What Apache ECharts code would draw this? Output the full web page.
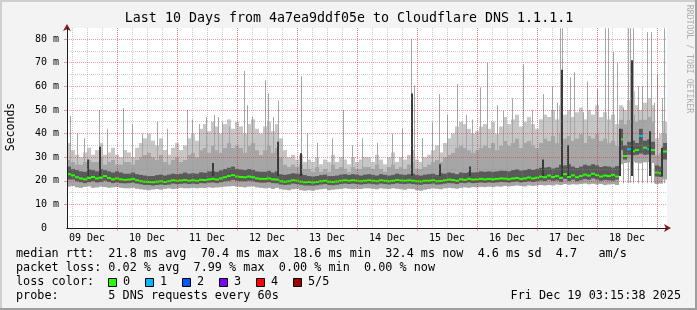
<!DOCTYPE html>
<html><head><meta charset="utf-8">
<script src="https://cdn.jsdelivr.net/npm/echarts@6/dist/echarts.min.js"></script>
<style>html,body{margin:0;padding:0;background:#f3f3f3}#c{width:697px;height:310px}</style>
</head><body><div id="c"></div>
<script>
// ---- time frame: hours since 09 Dec 00:00 ----
const tStart = 4, tEnd = 244, tStep = 1.6;
const dayLabels = ['09 Dec','10 Dec','11 Dec','12 Dec','13 Dec','14 Dec','15 Dec','16 Dec','17 Dec','18 Dec'];
const dayLabelHours = [12,36,60,84,108,132,156,180,204,228];
const dayBoundaryHours = [24,48,72,96,120,144,168,192,216,240];
const sixHourTicks = [6,12,18,24,30,36,42,48,54,60,66,72,78,84,90,96,102,108,114,120,126,132,138,144,150,156,162,168,174,180,186,192,198,204,210,216,222,228,234,240];
const yMax = 84.7;
const yLabelValues = [0,10,20,30,40,50,60,70,80];
const yMajorValues = [10,20,30,40,50,60,70,80];
const yMinorValues = [5,15,25,35,45,55,65,75];

// ---- median rtt (ms), one value per 1.6 h column ----
const med = [
22.8,22.3,21.5,21.0,20.6,21.2,21.6,21.0,21.3,22.0,21.2,20.6,21.0,20.6,20.4,
20.5,20.8,20.2,19.8,19.6,19.5,19.4,19.6,19.8,19.5,19.8,20.2,20.0,20.1,20.3,
20.0,20.2,20.0,20.4,20.3,20.6,20.8,20.5,21.0,21.5,22.0,22.4,21.8,21.6,21.5,
21.8,21.5,21.0,20.8,20.8,21.0,20.6,20.5,19.8,19.6,19.8,20.2,20.0,19.6,19.4,
19.5,19.3,19.5,19.8,20.0,19.6,19.5,19.7,20.0,20.2,20.0,20.2,20.0,19.8,20.0,
20.2,20.0,19.8,20.2,20.0,19.8,20.0,20.3,20.1,20.0,20.2,20.0,19.8,19.7,20.0,
20.0,20.2,19.8,19.9,20.2,20.5,20.3,20.0,20.6,20.4,20.8,20.5,20.6,20.8,20.6,
20.8,20.6,20.8,21.0,20.9,20.7,21.0,21.2,20.8,21.0,21.4,21.0,21.3,21.8,21.5,
22.2,21.6,22.0,21.2,22.8,21.6,22.3,21.5,22.0,22.6,22.2,23.0,22.4,21.8,22.2,
22.0,22.5,21.8,37.5,30.5,33.4,32.5,33.0,39.0,34.0,33.4,33.0,23.5,23.2,32.4];
// smoke: lowest ping
const lo = [
17.5,17.8,17.2,17.0,17.4,17.6,17.0,17.2,17.5,17.3,17.0,17.2,17.4,17.0,16.8,
16.8,17.0,16.6,16.4,16.2,16.0,16.3,16.5,16.2,16.6,16.8,16.5,16.7,17.0,16.8,
16.8,17.0,16.8,17.0,16.9,17.2,17.0,17.2,17.3,17.5,17.6,17.8,17.5,17.4,17.2,
17.5,17.6,17.2,17.0,16.8,17.0,16.5,17.0,16.4,16.2,16.0,16.4,16.6,16.0,15.8,
16.0,15.8,16.2,16.4,16.6,16.0,16.2,16.4,16.5,16.8,16.6,16.4,16.6,16.5,16.8,
16.8,16.6,16.4,16.8,16.6,16.5,16.8,16.6,16.4,16.2,16.6,16.5,16.0,15.8,16.2,
16.5,16.8,16.6,16.4,16.8,17.0,16.8,16.6,17.0,17.2,17.0,17.3,17.2,17.4,17.3,
17.5,17.3,17.6,17.5,17.8,17.6,17.8,18.0,17.8,17.6,18.0,17.8,18.0,18.2,18.0,
18.2,18.0,18.4,18.2,18.6,18.3,18.5,18.4,18.6,18.8,18.5,18.7,18.4,18.6,18.2,
18.4,18.6,18.2,27.0,27.5,27.8,28.0,27.6,27.4,27.8,28.0,27.5,18.6,18.8,20.5];
// smoke: lower edge of dense core
const q1 = [
20.5,20.5,19.8,19.4,19.0,19.4,19.8,19.3,19.5,20.0,19.5,19.0,19.3,19.0,18.9,
19.0,19.2,18.8,18.5,18.2,18.2,18.0,18.2,18.4,18.2,18.4,18.8,18.6,18.7,18.9,
18.6,18.8,18.6,19.0,18.9,19.2,19.3,19.0,19.4,19.8,20.0,20.4,20.0,19.8,19.8,
20.0,19.8,19.4,19.2,19.2,19.4,19.0,18.9,18.4,18.2,18.4,18.8,18.6,18.3,18.0,
18.0,17.9,18.1,18.4,18.6,18.2,18.1,18.3,18.6,18.8,18.6,18.8,18.6,18.4,18.6,
18.8,18.6,18.4,18.8,18.6,18.4,18.6,18.9,18.7,18.6,18.8,18.6,18.4,18.3,18.6,
18.6,18.8,18.4,18.5,18.8,19.0,18.9,18.6,19.1,19.0,19.3,19.0,19.1,19.3,19.1,
19.3,19.1,19.3,19.5,19.4,19.2,19.5,19.7,19.3,19.5,19.8,19.5,19.8,20.1,19.9,
20.4,19.9,20.2,19.6,20.8,19.9,20.5,19.8,20.2,20.7,20.4,21.0,20.5,20.0,20.3,
20.2,20.0,20.5,33.0,29.0,31.0,30.8,31.0,31.5,31.0,31.2,31.0,21.8,21.6,29.0];
// smoke: upper edge of dense core
const q3 = [
26.0,25.0,24.5,24.0,23.8,24.8,24.5,24.0,25.0,24.5,24.0,23.5,24.0,23.5,23.0,
23.0,23.5,22.8,22.5,22.2,22.0,22.0,22.4,22.6,22.2,22.6,23.0,22.8,23.0,23.5,
23.0,23.2,23.0,23.6,23.4,24.0,24.0,23.8,24.4,25.0,25.5,26.0,25.0,24.8,24.5,
25.0,24.6,24.0,23.8,23.8,24.2,23.5,24.0,22.8,22.5,22.8,23.2,23.0,23.0,22.4,
22.0,21.8,22.0,22.4,22.6,22.0,22.0,22.2,22.6,22.8,22.5,22.8,22.6,22.2,22.6,
22.8,22.5,22.2,22.8,22.5,22.2,22.5,23.0,22.7,22.5,22.8,23.0,22.4,22.2,22.6,
22.8,23.0,22.5,23.2,23.0,23.5,23.2,22.8,23.5,23.3,23.6,23.5,23.6,24.0,23.8,
24.0,23.8,24.0,24.3,24.2,24.0,24.5,24.8,24.3,24.5,25.0,24.6,25.0,25.5,25.6,
25.8,25.2,25.6,26.8,26.5,27.0,26.0,25.4,26.0,26.8,26.4,27.0,26.5,25.8,26.2,
26.0,25.6,26.2,42.0,35.0,36.5,37.0,36.0,42.0,37.0,37.5,36.5,26.5,26.0,36.0];
// smoke: top of the solid body of pings
const hi = [
29,28,27,27,28,29,28,28,30,27,28,29,27,27,28,
28,27,29,30,31,32,30,29,31,28,27,29,30,28,29,
31,32,30,33,34,32,35,33,32,34,36,34,35,34,32,
35,36,33,31,33,35,32,34,30,27,26,27,26,27,25,
25,24,26,24,25,24,27,25,26,25,24,26,25,25,26,
26,25,27,25,24,26,27,25,26,25,27,28,25,25,26,
27,28,29,28,30,31,32,34,35,34,33,32,33,34,35,
34,36,33,35,37,35,36,38,34,36,37,35,34,36,38,
37,39,36,40,38,39,37,38,40,36,39,38,40,37,38,
36,37,35,46,44,46,48,45,46,46,47,45,31,32,40];
// smoke: top of the sparse upper pings
const hz = [
36,33,31,30,32,34,31,33,36,31,32,34,31,30,33,
32,30,34,36,38,40,37,35,38,33,31,34,36,33,35,
38,40,37,42,44,41,45,43,40,44,46,42,45,43,40,
44,46,42,40,43,45,41,44,38,33,30,31,29,31,28,
29,28,30,27,29,28,31,28,30,29,27,30,28,29,30,
30,28,31,29,27,30,32,28,30,29,31,33,29,28,30,
31,33,35,32,36,38,40,43,45,44,42,40,41,43,44,
42,45,40,43,47,44,46,48,43,45,47,44,42,46,48,
47,50,46,52,48,50,47,49,51,46,50,48,52,47,49,
46,48,44,52,50,54,58,52,50,53,55,52,38,40,45];
// columns with lost pings: [column, lost pings of 5]
const lossEvents = [[140,1],[143,1],[145,1]];
// isolated high pings: [hour, ms]
const spikes = [[5.2,47.4],[8,40],[11,38],[16.8,50],[20,42],[26.4,50.7],[30,44],[34,40],[40,45],[44,42],
[52,50],[54,46],[57,44],[59.6,47],[62.8,48],[64.4,47],[66,45],[69,43],[74.8,66.5],[76,52],[78,47],
[83.2,62.6],[84.4,57],[86.4,47],[88.4,54],[97.6,64.3],[100,40],[104,36],[110,38],[114.4,50],[118,35],
[122,38],[128,36],[134,40],[138,42],[141.6,80],[142.8,60.5],[146,38],[150,45],[152.8,56.7],[156,48],
[160,61],[163.6,48],[166,46],[169.2,59.6],[172,70],[176,52],[178.4,49.5],[182,55],[186.4,69.4],[190,50],
[194.4,56.7],[198,60],[200,53],[201.2,84.6],[202,84.6],[205.2,63.8],[207,66],[210.4,49],[212,62],[216,58.8],
[219.2,84.6],[220.4,84.6],[222.4,74.5],[224,70],[226.4,51],[228.4,84.6],[229.2,84.6],[230.4,84.6],
[232.4,60],[234,60],[236,83],[237.6,83],[238.8,53],[240,65],[242,55],[242.8,84.6]];
// isolated high medians in the dense core: [hour, ms]
const darkSpikes = [[12.4,29],[17.2,34.4],[62.4,27.5],[88.4,36.5],[97.6,31.7],[142,57],[153.2,27],[165.2,26],
[194.4,29],[202,67],[204.4,35],[225.2,42],[230,71],[237.2,41],[242,34]];

const lossColors = ['#26ff00','#00b8ff','#0059ff','#7e00ff','#ff0000','#a00000'];
const lossLabels = ['0','1','2','3','4','5/5'];
const legendLines = [
 'median rtt:  21.8 ms avg  70.4 ms max  18.6 ms min  32.4 ms now  4.6 ms sd  4.7   am/s',
 'packet loss: 0.02 % avg  7.99 % max  0.00 % min  0.00 % now',
 'loss color:',
 'probe:       5 DNS requests every 60s'];
const stamp = 'Fri Dec 19 03:15:38 2025';
const titleText = 'Last 10 Days from 4a7ea9ddf05e to Cloudflare DNS 1.1.1.1';

// ---- styling ----
const MONO = '"DejaVu Sans Mono", monospace';
const LIGHT = '#a6a6a6', HAZE = '#c6c6c6', DARK = '#5a5a5a';
const MINOR = 'rgba(143,143,143,0.45)', MAJOR = 'rgba(240,0,0,0.38)';
const SPIKE_BASE = 19, DARK_BASE = 22;

const hc = i => tStart + tStep * (i + 0.5);
const lossAt = i => { const e = lossEvents.find(x => x[0] === i); return e ? e[1] : 0; };
const smokeData = med.map((m, i) => [hc(i), lo[i], q1[i], q3[i], hi[i], m, lossAt(i), hz[i]]);

function vrect(api, xa, xb, ya, yb, fill) {
  const p0 = api.coord([xa, ya]), p1 = api.coord([xb, yb]);
  return {type:'rect', shape:{x:Math.min(p0[0],p1[0]), y:Math.min(p0[1],p1[1]),
    width:Math.abs(p1[0]-p0[0]), height:Math.abs(p1[1]-p0[1])}, style:{fill}};
}
function hazeItem(params, api) {
  const x = api.value(0), h = tStep / 2;
  return vrect(api, x-h, x+h, api.value(1), api.value(2), HAZE);
}
function smokeItem(params, api) {
  const x = api.value(0), h = tStep / 2;
  const m = api.value(5), loss = api.value(6);
  const pm = api.coord([x, m]);
  const w = api.size([tStep, 0])[0];
  return {type:'group', children:[
    vrect(api, x-h, x+h, api.value(1), api.value(4), LIGHT),
    vrect(api, x-h, x+h, api.value(2), api.value(3), DARK),
    {type:'rect', shape:{x:pm[0]-w/2, y:pm[1]-1, width:w, height:2}, style:{fill:lossColors[loss]}}
  ]};
}
function spikeItem(color, width) {
  return (params, api) => {
    const top = api.coord([api.value(0), api.value(2)]);
    const bot = api.coord([api.value(0), api.value(1)]);
    const x0 = Math.round(top[0] - width/2);
    return {type:'rect', shape:{x:x0, y:top[1], width, height:bot[1]-top[1]}, style:{fill:color}};
  };
}

const chart = echarts.init(document.getElementById('c'), null, {renderer:'canvas'});
const axisBase = {type:'value', min:tStart, max:tEnd, position:'bottom', gridIndex:0};
const yBase = {type:'value', min:0, max:yMax, position:'left', gridIndex:0};

const graphics = [
  {type:'rect', shape:{x:0,y:0,width:697,height:2}, style:{fill:'#cfcfcf'}, silent:true},
  {type:'rect', shape:{x:0,y:0,width:2,height:310}, style:{fill:'#cfcfcf'}, silent:true},
  {type:'rect', shape:{x:0,y:308,width:697,height:2}, style:{fill:'#9e9e9e'}, silent:true},
  {type:'rect', shape:{x:695,y:0,width:2,height:310}, style:{fill:'#9e9e9e'}, silent:true},
  {type:'text', x:349, y:19, style:{text:titleText, font:'13.3px ' + MONO, fill:'#000', align:'center', verticalAlign:'middle', textAlign:'center', textVerticalAlign:'middle'}},
  {type:'text', x:11, y:127, rotation:Math.PI/2, style:{text:'Seconds', font:'11.5px ' + MONO, fill:'#000', align:'center', verticalAlign:'middle', textAlign:'center', textVerticalAlign:'middle'}},
  {type:'text', x:689, y:59, rotation:-Math.PI/2, style:{text:'RRDTOOL / TOBI OETIKER', font:'8.2px ' + MONO, fill:'#adadad', align:'center', verticalAlign:'middle', textAlign:'center', textVerticalAlign:'middle'}},
  {type:'text', x:681, y:296, style:{text:stamp, font:'11.8px ' + MONO, fill:'#000', align:'right', verticalAlign:'middle', textAlign:'right', textVerticalAlign:'middle'}}
];
legendLines.forEach((t, k) => graphics.push({type:'text', x:16, y:254 + 14*k,
  style:{text:t, font:'11.8px ' + MONO, fill:'#000', align:'left', verticalAlign:'middle', textAlign:'left', textVerticalAlign:'middle'}}));
const boxX = [108,145,182,219,256,293];
lossColors.forEach((c, k) => {
  graphics.push({type:'rect', shape:{x:boxX[k]+0.5, y:278.5, width:8, height:8}, style:{fill:c, stroke:'#000', lineWidth:1}});
  graphics.push({type:'text', x:boxX[k]+15, y:282, style:{text:lossLabels[k], font:'11.8px ' + MONO, fill:'#000', align:'left', verticalAlign:'middle', textAlign:'left', textVerticalAlign:'middle'}});
});

chart.setOption({
  backgroundColor:'#f3f3f3',
  animation:false,
  grid:{left:67, right:30, top:28, bottom:82, show:true, backgroundColor:'#ffffff', borderWidth:0},
  xAxis:[
    Object.assign({}, axisBase, {z:10,
      axisLine:{show:true, onZero:false, lineStyle:{color:'#1f1f1f', width:1}},
      axisTick:{show:false, customValues:sixHourTicks},
      splitLine:{show:true, lineStyle:{color:MINOR, type:[1,1], width:1}},
      axisLabel:{show:true, customValues:dayLabelHours, formatter:(v) => dayLabels[dayLabelHours.indexOf(v)],
        fontFamily:MONO, fontSize:10, color:'#000', margin:5}}),
    Object.assign({}, axisBase, {z:11,
      axisLine:{show:false, onZero:false},
      axisTick:{show:true, customValues:dayBoundaryHours, length:3, lineStyle:{color:MAJOR}},
      splitLine:{show:true, lineStyle:{color:MAJOR, type:[1,1], width:1}},
      axisLabel:{show:false}}),
    Object.assign({}, axisBase, {z:9,
      axisLine:{show:true, onZero:false, symbol:['none','arrow'], symbolSize:[6,7], symbolOffset:[0,4], lineStyle:{color:'#7f1f1f'}},
      axisTick:{show:false}, splitLine:{show:false}, axisLabel:{show:false}})
  ],
  yAxis:[
    Object.assign({}, yBase, {z:11,
      axisLine:{show:true, onZero:false, lineStyle:{color:'#1f1f1f'}},
      axisTick:{show:true, customValues:yMajorValues, length:3, lineStyle:{color:MAJOR}},
      splitLine:{show:true, lineStyle:{color:MAJOR, type:[1,1], width:1}},
      axisLabel:{customValues:yLabelValues, formatter:(v) => v === 0 ? '0  ' : v + ' m',
        fontFamily:MONO, fontSize:10, color:'#000', margin:8}}),
    Object.assign({}, yBase, {z:10,
      axisLine:{show:false, onZero:false},
      axisTick:{show:false, customValues:yMinorValues},
      splitLine:{show:true, lineStyle:{color:MINOR, type:[1,1], width:1}},
      axisLabel:{show:false}}),
    Object.assign({}, yBase, {z:9,
      axisLine:{show:true, onZero:false, symbol:['none','arrow'], symbolSize:[6,7], symbolOffset:[0,4], lineStyle:{color:'#7f1f1f'}},
      axisTick:{show:false}, splitLine:{show:false}, axisLabel:{show:false}})
  ],
  series:[
    {type:'custom', xAxisIndex:0, yAxisIndex:0, data:smokeData.map(d => [d[0], d[4], d[7]]),
      encode:{x:0, y:[1,2]}, renderItem:hazeItem, silent:true, clip:true, z:1},
    {type:'custom', xAxisIndex:0, yAxisIndex:0, data:spikes.map(s => [s[0], SPIKE_BASE, s[1]]),
      encode:{x:0, y:[1,2]}, renderItem:spikeItem(LIGHT, 1), silent:true, clip:true, z:2},
    {type:'custom', xAxisIndex:0, yAxisIndex:0, data:smokeData,
      encode:{x:0, y:[1,2,3,4,5]}, renderItem:smokeItem, silent:true, clip:true, z:3},
    {type:'custom', xAxisIndex:0, yAxisIndex:0, data:darkSpikes.map(s => [s[0], DARK_BASE, s[1]]),
      encode:{x:0, y:[1,2]}, renderItem:spikeItem('#3a3a3a', 2), silent:true, clip:true, z:4}
  ],
  graphic:graphics
});
</script></body></html>
